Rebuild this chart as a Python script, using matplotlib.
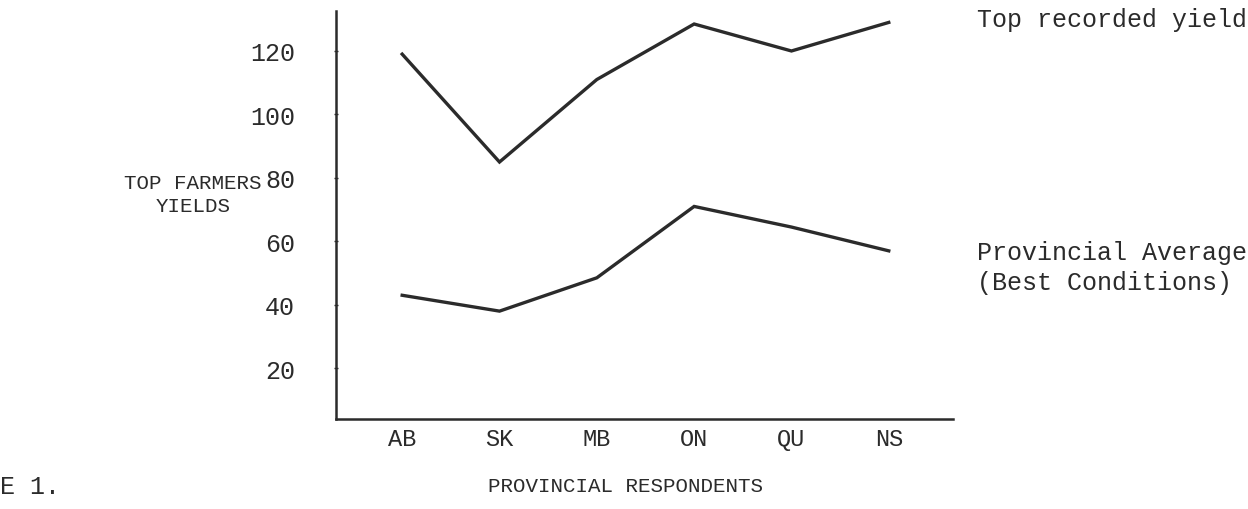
import matplotlib
matplotlib.use("Agg")
import matplotlib.pyplot as plt

provinces = ["AB", "SK", "MB", "ON", "QU", "NS"]
top_recorded = [119, 85, 111, 128.5, 120, 129]
provincial_avg = [43, 38, 48.5, 71, 64.5, 57]
y_ticks = [20, 40, 60, 80, 100, 120]

FONT = "Liberation Mono"
INK = "#2b2b2b"

fig = plt.figure(figsize=(12.48, 5.10), dpi=100)
ax = fig.add_axes([336/1248, 1-420/510, 617/1248, 408/510])

x = list(range(len(provinces)))
ax.plot(x, top_recorded, color=INK, lw=2.4, solid_joinstyle="miter")
ax.plot(x, provincial_avg, color=INK, lw=2.4, solid_joinstyle="miter")

ax.set_xlim(-0.68, 5.66)
ax.set_ylim(4, 132.6)
ax.set_xticks(x)
ax.set_xticklabels(provinces, fontfamily=FONT, fontsize=17, color=INK)
ax.set_yticks(y_ticks)
ax.set_yticklabels([str(v) for v in y_ticks], fontfamily=FONT, fontsize=18, color=INK)
ax.tick_params(axis="x", length=0, pad=6)
ax.tick_params(axis="y", length=3, width=1, direction="inout", pad=28, color=INK)

for s in ["top", "right"]:
    ax.spines[s].set_visible(False)
for s in ["left", "bottom"]:
    ax.spines[s].set_color(INK)
    ax.spines[s].set_linewidth(1.8)

fig.text(193/1248, 1-195/510, "TOP FARMERS\nYIELDS", ha="center", va="center",
         fontfamily=FONT, fontsize=15, color=INK, linespacing=1.3)
fig.text(977/1248, 1-20/510, "Top recorded yield", ha="left", va="center",
         fontfamily=FONT, fontsize=18, color=INK)
fig.text(977/1248, 1-268/510, "Provincial Average\n(Best Conditions)", ha="left", va="center",
         fontfamily=FONT, fontsize=18, color=INK, linespacing=1.3)
fig.text(626/1248, 1-487/510, "PROVINCIAL RESPONDENTS", ha="center", va="center",
         fontfamily=FONT, fontsize=15, color=INK)
fig.text(0, 1-487/510, "E 1.", ha="left", va="center",
         fontfamily=FONT, fontsize=18, color=INK)

fig.savefig("out.png", dpi=100)
